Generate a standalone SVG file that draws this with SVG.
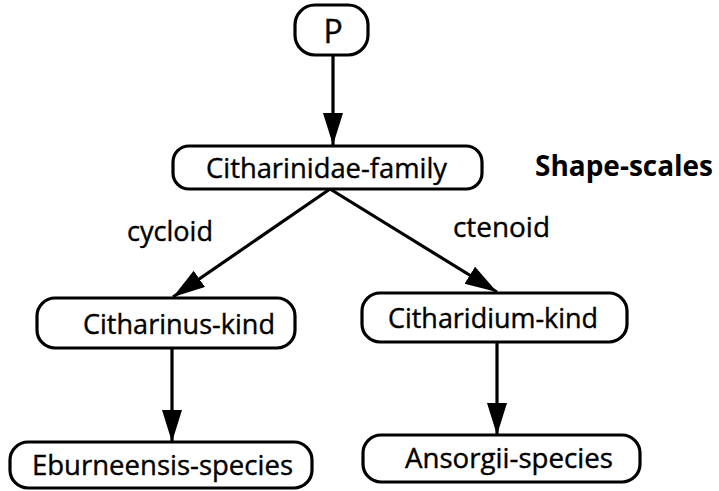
<svg xmlns="http://www.w3.org/2000/svg" width="719" height="491" viewBox="0 0 719 491">
<style>
.box{fill:#fff;stroke:#000;stroke-width:3.2}
.lbl{font-family:"Open Sans","Liberation Sans",sans-serif;font-size:28px;fill:#000;stroke:#000;stroke-width:0.4}
.edge{stroke:#000;stroke-width:3.2;fill:none}
.bold{font-family:"Open Sans","Liberation Sans",sans-serif;font-size:28px;font-weight:bold;fill:#000}
</style>
<defs>
<marker id="ah" markerUnits="userSpaceOnUse" markerWidth="34" markerHeight="22" refX="32" refY="10" orient="auto">
<path d="M0,0 L32,10 L0,20 z" fill="#000"/>
</marker>
</defs>
<rect width="719" height="491" fill="#fff"/>
<g id="edges">
<line class="edge" x1="333" y1="55" x2="333" y2="145" marker-end="url(#ah)"/>
<line class="edge" x1="330" y1="189" x2="173" y2="297" marker-end="url(#ah)"/>
<line class="edge" x1="330" y1="189" x2="497" y2="292" marker-end="url(#ah)"/>
<line class="edge" x1="172" y1="348" x2="172" y2="442" marker-end="url(#ah)"/>
<line class="edge" x1="497" y1="342" x2="497" y2="435" marker-end="url(#ah)"/>
<text class="lbl" x="127" y="241" textLength="86" lengthAdjust="spacingAndGlyphs">cycloid</text>
<text class="lbl" x="453" y="237" textLength="97" lengthAdjust="spacingAndGlyphs">ctenoid</text>
</g>
<g id="nodeP">
<rect class="box" x="295" y="5" width="73" height="50" rx="20"/>
<text class="lbl" x="333" y="43" text-anchor="middle" style="font-size:32px">P</text>
</g>
<g id="nodeFamily">
<rect class="box" x="173" y="146" width="309" height="43" rx="16"/>
<text class="lbl" x="206" y="178" textLength="241" lengthAdjust="spacingAndGlyphs">Citharinidae-family</text>
</g>
<text class="bold" x="535" y="176" textLength="178" lengthAdjust="spacingAndGlyphs">Shape-scales</text>
<g id="nodeCitharinus">
<rect class="box" x="37" y="298" width="258" height="50" rx="18"/>
<text class="lbl" x="83" y="334" textLength="192" lengthAdjust="spacingAndGlyphs">Citharinus-kind</text>
</g>
<g id="nodeCitharidium">
<rect class="box" x="362" y="293" width="265" height="49" rx="18"/>
<text class="lbl" x="388" y="328" textLength="210" lengthAdjust="spacingAndGlyphs">Citharidium-kind</text>
</g>
<g id="nodeEburneensis">
<rect class="box" x="10" y="442" width="302" height="46" rx="18"/>
<text class="lbl" x="32" y="475" textLength="261" lengthAdjust="spacingAndGlyphs">Eburneensis-species</text>
</g>
<g id="nodeAnsorgii">
<rect class="box" x="363" y="435" width="277" height="47" rx="18"/>
<text class="lbl" x="405" y="468" textLength="208" lengthAdjust="spacingAndGlyphs">Ansorgii-species</text>
</g>
</svg>
